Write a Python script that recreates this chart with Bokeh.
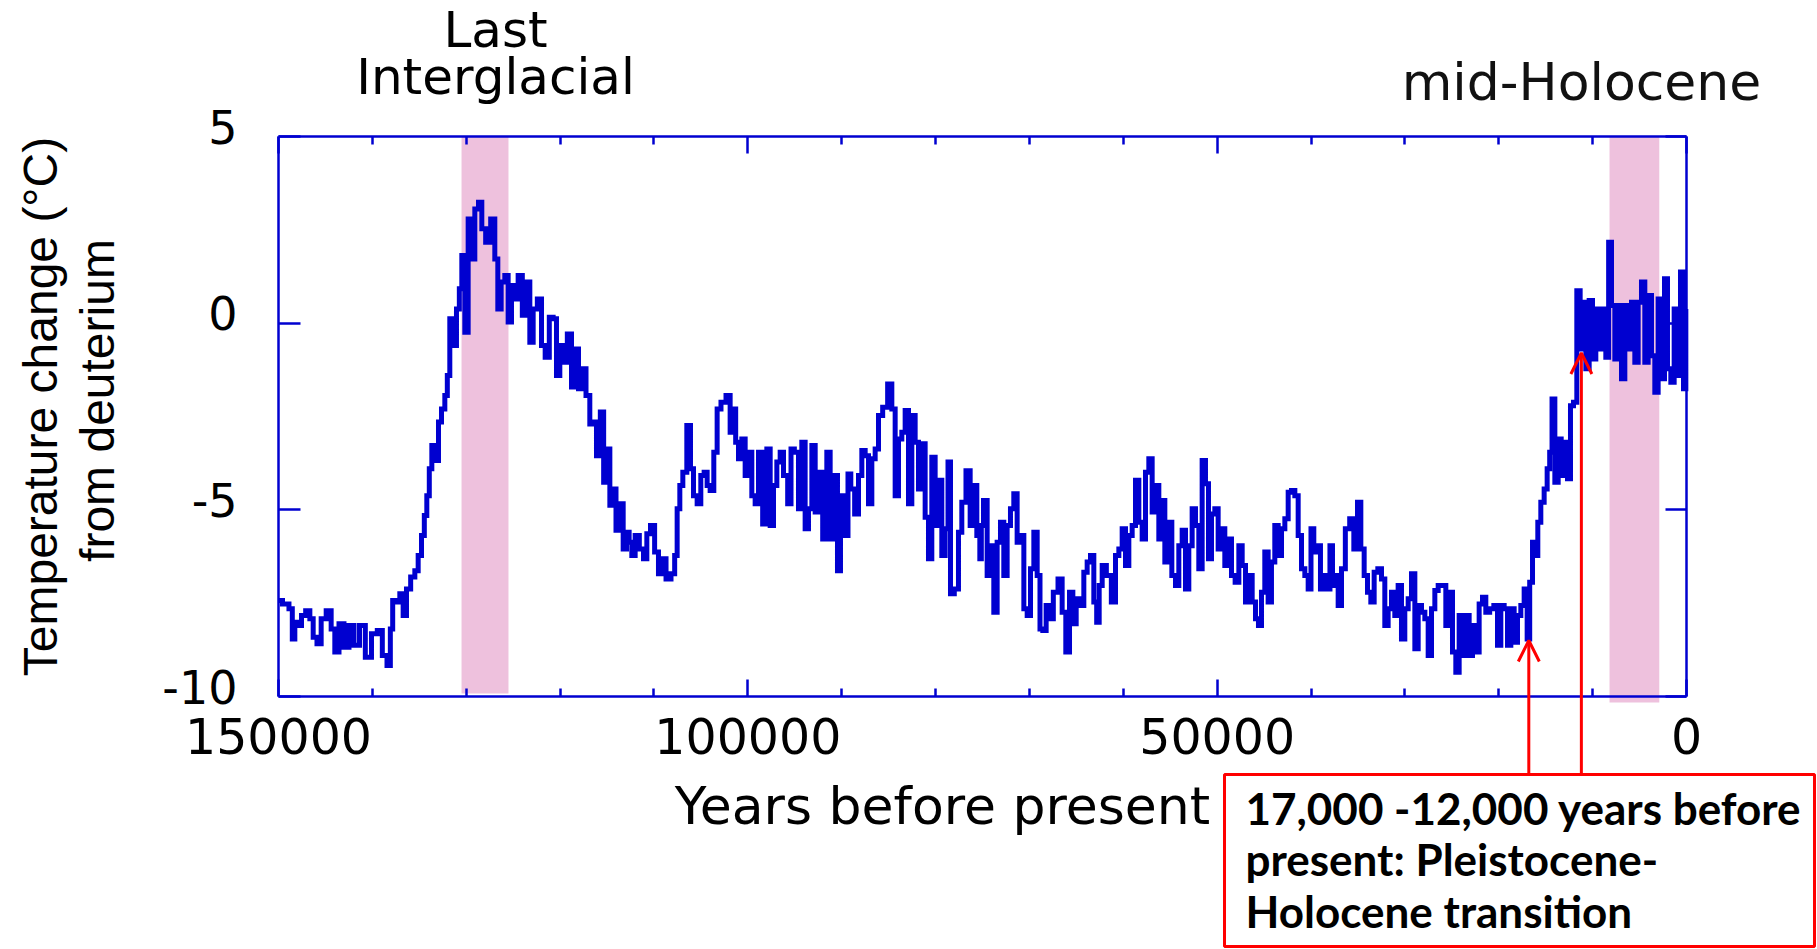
import math
from bokeh.plotting import figure
from bokeh.models import Range1d, LinearAxis, FixedTicker, Arrow, OpenHead
from bokeh.core.properties import value
from bokeh.embed import file_html
from bokeh.resources import INLINE

# ---------------- data ----------------
# Years before present / temperature change (deg C), 150 ka -> 112.5 ka
years_a = [150000, 149150, 148620, 148440, 148080, 147730, 147370, 146840, 146480, 146130,
           145670, 145240, 144600, 144180, 143820, 143290, 142760, 142220, 141690, 141050,
           140450, 139740, 139210, 138670, 138210, 137960, 137710, 137250, 136900, 136540,
           136190, 135650, 135300, 134940, 134590, 134340, 134060, 133810, 133520, 133100,
           132810, 132460, 132100, 131930, 131570, 131220, 130860, 130610, 130330, 129970,
           129620, 129260, 128910, 128480, 128200, 127660, 127130, 126780, 126490, 126070,
           125710, 125360, 125000, 124650, 124290, 123760, 123400, 123050, 122690, 122160,
           121800, 121380, 120920, 120560, 120210, 119850, 119500, 118960, 118610, 118250,
           117830, 117470, 117010, 116660, 116300, 115950, 115480, 115240, 114880, 114520,
           114170, 113920, 113460, 113100, 112750]
temps_a = [-7.43, -7.52, -7.65, -8.46, -8.01, -8.10, -7.83, -7.70, -7.92, -8.41,
           -8.59, -7.92, -7.70, -8.19, -8.81, -8.05, -8.68, -8.10, -8.63, -8.10,
           -8.95, -8.32, -8.23, -8.90, -9.17, -8.19, -7.43, -7.47, -7.25, -7.83,
           -7.12, -6.80, -6.63, -6.22, -5.69, -5.15, -4.62, -3.90, -3.28, -3.68,
           -2.65, -2.30, -1.94, -1.40, 0.12, -0.60, 0.38, 0.92, 1.81, -0.24,
           2.79, 1.72, 3.06, 3.24, 2.53, 2.17, 2.79, 1.72, 0.38, 1.10,
           1.28, 0.03, 1.01, 0.65, 1.28, 0.21, 1.10, -0.51, 0.38, 0.65,
           -0.60, -0.91, 0.16, 0.12, -1.40, -0.60, -1.05, -0.29, -1.71, -0.69,
           -1.76, -1.22, -1.94, -2.70, -2.65, -3.55, -2.38, -4.26, -3.37, -4.88,
           -4.44, -5.55, -4.84, -6.05, -5.60]

# 112.5 ka -> 75 ka
years_b = [112540, 112180, 111830, 111290, 110940, 110580, 110160, 109700, 109340, 108980,
           108450, 107920, 107670, 107390, 107100, 106750, 106250, 105970, 105610, 105190,
           104830, 104480, 104190, 103840, 103410, 103130, 102590, 102060, 101710, 101420,
           101170, 100820, 100460, 100110, 99750, 99400, 99040, 98690, 98150, 97800,
           97440, 97090, 96730, 96380, 96020, 95490, 95310, 94780, 94430, 94070,
           93720, 93360, 93000, 92650, 92290, 91760, 91410, 91050, 90630, 90270,
           89990, 89450, 89210, 88850, 88390, 88030, 87680, 87320, 86970, 86610,
           86260, 85900, 85370, 84840, 84480, 84130, 83770, 83420, 83060, 82710,
           82350, 82000, 81640, 81290, 80930, 80580, 80220, 79870, 79510, 79160,
           78800, 78550, 78270, 77740, 77380, 77030, 76490, 76140, 75780, 75430,
           75140]
temps_b = [-5.87, -6.22, -5.69, -6.05, -6.31, -5.64, -5.42, -6.13, -6.71, -6.31,
           -6.85, -6.71, -6.22, -4.97, -4.35, -3.99, -2.74, -3.90, -4.62, -4.84,
           -4.08, -3.99, -4.35, -4.48, -3.46, -2.30, -2.12, -1.94, -2.92, -2.30,
           -3.19, -3.63, -3.10, -4.08, -3.46, -4.62, -4.84, -3.46, -5.38, -3.37,
           -5.42, -4.35, -3.72, -3.46, -4.08, -4.84, -3.37, -3.46, -4.97, -3.19,
           -5.51, -4.97, -3.28, -5.06, -3.99, -5.78, -3.46, -5.78, -4.08, -6.63,
           -4.62, -5.69, -4.04, -4.44, -5.11, -4.08, -3.41, -3.55, -4.84, -3.63,
           -3.37, -2.47, -2.25, -1.63, -2.30, -4.62, -3.10, -2.92, -2.34, -4.84,
           -2.47, -3.19, -4.44, -3.23, -5.20, -6.31, -3.59, -5.42, -4.21, -6.22,
           -5.51, -3.72, -7.25, -7.12, -5.60, -4.80, -3.95, -5.42, -4.35, -5.69,
           -6.31]

# 75 ka -> 37.5 ka
years_c = [75110, 74680, 74330, 73970, 73620, 73260, 72910, 72550, 72200, 71840,
           71490, 71130, 70770, 70420, 70060, 69710, 69350, 69000, 68750, 68400,
           68040, 67690, 67220, 66690, 66340, 65910, 65550, 65200, 64840, 64380,
           64030, 63670, 63320, 62960, 62710, 62430, 62070, 61540, 61010, 60650,
           60300, 59940, 59590, 59230, 58880, 58520, 58170, 57810, 57460, 57100,
           56750, 56390, 56040, 55750, 55400, 55040, 54620, 54260, 53910, 53550,
           53200, 52840, 52490, 52130, 51780, 51420, 51070, 50780, 50430, 50070,
           49720, 49360, 49010, 48650, 48300, 47870, 47510, 47160, 46800, 46450,
           46090, 45740, 45460, 45100, 44750, 44390, 44040, 43680, 43320, 42970,
           42610, 42260, 41900, 41550, 41190, 40840, 40480, 40130, 39880, 39530,
           39170, 38820, 38460, 38110, 37860, 37570]
temps_c = [-5.42, -4.75, -6.76, -5.96, -7.74, -5.87, -5.33, -6.76, -5.42, -4.97,
           -4.57, -5.87, -5.69, -7.65, -7.83, -6.58, -5.60, -6.76, -8.19, -8.23,
           -7.56, -7.92, -7.21, -6.85, -7.74, -8.81, -7.21, -8.05, -7.38, -7.56,
           -6.67, -6.40, -6.22, -7.47, -8.01, -7.03, -6.49, -6.76, -7.47, -6.22,
           -6.05, -5.51, -6.49, -5.69, -5.42, -4.21, -5.33, -5.78, -3.99, -3.63,
           -5.06, -4.35, -5.78, -4.75, -6.40, -5.33, -6.76, -7.03, -5.96, -5.55,
           -7.12, -5.96, -4.97, -5.42, -6.58, -3.68, -4.30, -6.31, -5.11, -4.97,
           -6.05, -5.51, -6.49, -5.78, -6.76, -6.94, -5.96, -6.49, -7.47, -6.76,
           -7.47, -7.92, -8.10, -7.21, -6.13, -7.47, -6.40, -5.42, -6.22, -5.51,
           -5.24, -4.53, -4.48, -4.62, -5.69, -6.58, -6.76, -7.12, -5.51, -6.13,
           -5.96, -7.12, -6.76, -7.12, -5.96, -7.03]

# 37.5 ka -> present
years_d = [37290, 36930, 36580, 36110, 35650, 35230, 34870, 34520, 34160, 33810,
           33450, 33100, 32670, 32320, 31960, 31610, 31250, 30900, 30540, 30190,
           29830, 29470, 29120, 28760, 28410, 28050, 27700, 27340, 26990, 26630,
           26280, 25820, 25460, 25110, 24750, 24400, 24040, 23690, 23330, 22980,
           22620, 22270, 21910, 21560, 21200, 20740, 20310, 19960, 19600, 19250,
           18890, 18540, 18180, 17830, 17470, 17120, 16830, 16580, 16230, 15980,
           15700, 15340, 14990, 14700, 14450, 14200, 13850, 13490, 13210, 12860,
           12500, 12220, 11860, 11510, 11150, 10900, 10550, 10190, 9840, 9480,
           9130, 8770, 8420, 8170, 7810, 7460, 7100, 6750, 6390, 6040,
           5680, 5330, 4970, 4620, 4260, 3910, 3550, 3200, 2840, 2490,
           2200, 1850, 1490, 1140, 780, 500, 140, 0]
temps_d = [-6.76, -7.56, -6.58, -5.51, -5.24, -6.05, -4.80, -6.05, -6.76, -7.21,
           -7.47, -6.67, -6.58, -6.85, -8.10, -7.65, -7.21, -7.83, -7.03, -8.46,
           -7.65, -7.38, -6.71, -8.72, -7.56, -7.74, -7.92, -8.90, -7.65, -7.16,
           -7.03, -7.03, -8.10, -7.21, -8.81, -9.35, -7.83, -8.90, -7.83, -8.90,
           -8.10, -8.81, -7.52, -7.34, -7.74, -7.65, -7.56, -8.63, -7.56, -7.65,
           -8.63, -7.65, -8.55, -7.83, -7.56, -7.12, -8.46, -6.94, -5.87, -6.22,
           -5.33, -4.80, -4.44, -3.90, -3.46, -2.03, -4.26, -3.10, -4.08, -3.19,
           -4.17, -2.21, -2.12, 0.87, -0.69, 0.56, -1.22, 0.61, -0.96, 0.38,
           -0.69, 0.38, -0.91, 2.17, 0.47, -0.96, 0.47, -1.49, 0.47, -0.69,
           0.56, -1.05, 0.56, 1.10, -1.05, 0.74, -0.87, -1.85, 0.65, -1.49,
           1.19, -1.22, -1.58, 0.38, -1.40, 1.37, -1.76, 0.38]

# shaded periods (years before present)
band_names = ["Last Interglacial", "mid-Holocene"]
band_start = [130500, 8200]
band_end = [125500, 2900]

# axis ticks
x_ticks = [150000, 100000, 50000, 0]
x_tick_labels = ["150000", "100000", "50000", "0"]
x_minor_ticks = [140000, 130000, 120000, 110000, 90000, 80000, 70000,
                 60000, 40000, 30000, 20000, 10000]
y_ticks = [5, 0, -5, -10]
y_tick_labels = ["5", "0", "-5", "-10"]

# transition arrows (year, temperature at the tip)
arrow_years = [16800, 11200]
arrow_temps = [-8.5, -0.8]

# ---------------- layout ----------------
W, H = 1817, 949
PL, PR, PT, PB = 278, 1686, 136, 696          # plot box in pixels
BLUE = "#0000D0"
PINK = "#EEC1DD"
X0, X1 = x_ticks[0], x_ticks[-1]
Y0, Y1 = y_ticks[0], y_ticks[-1]


def X(px):
    return X0 + (px - PL) * (X1 - X0) / (PR - PL)


def Y(py):
    return Y0 + (py - PT) * (Y1 - Y0) / (PB - PT)


years = years_a + years_b + years_c + years_d
temps = temps_a + temps_b + temps_c + temps_d

p = figure(width=W, height=H, x_range=Range1d(X(0), X(W)), y_range=Range1d(Y(H), Y(0)),
           output_backend="svg", toolbar_location=None,
           x_axis_location=None, y_axis_location=None, min_border=0,
           outline_line_color=None, background_fill_color="white", border_fill_color="white")
p.xgrid.visible = False
p.ygrid.visible = False
# y tick labels sit ~10 px above their ticks in the original
p.extra_y_ranges = {"ylab": Range1d(Y(H + 10), Y(10))}

# shaded periods
p.quad(left=band_start, right=band_end, bottom=[Y(693), Y(702)], top=[Y0, Y0],
       fill_color=PINK, line_color=None)

# temperature record
p.step(years, temps, mode="center", line_color=BLUE, line_width=5, line_join="miter")


def add_axis(side, fixed, bounds, ticks, minor, labels, tick_in, minor_in,
             font_size=None, standoff=None, range_name=None, show_line=True):
    ax = LinearAxis(fixed_location=fixed, bounds=bounds,
                    ticker=FixedTicker(ticks=ticks, minor_ticks=minor),
                    axis_line_color=BLUE if show_line else None, axis_line_width=2.5,
                    major_tick_line_color=BLUE if show_line else None,
                    major_tick_line_width=2.5,
                    minor_tick_line_color=BLUE if show_line else None,
                    minor_tick_line_width=2.5,
                    major_tick_in=tick_in, major_tick_out=0,
                    minor_tick_in=minor_in, minor_tick_out=0)
    if range_name:
        ax.y_range_name = range_name
    if labels:
        ax.major_label_overrides = dict(zip(ticks, labels))
        ax.major_label_text_font = "DejaVu Sans"
        ax.major_label_text_font_size = font_size
        ax.major_label_text_color = "black"
        ax.major_label_standoff = standoff
    else:
        ax.major_label_text_color = None
    p.add_layout(ax, side)
    return ax


add_axis("below", Y1, (X1, X0), x_ticks, x_minor_ticks, x_tick_labels, 17, 8, "49px", 21)
add_axis("above", Y0, (X1, X0), x_ticks, x_minor_ticks, None, 17, 8)
add_axis("left", X0, (Y1, Y0), y_ticks, [], None, 22, 0)
add_axis("left", X0, (Y1, Y0), y_ticks, [], y_tick_labels, 0, 0, "46px", 41,
         range_name="ylab", show_line=False)
add_axis("right", X1, (Y1, Y0), y_ticks, [], None, 21, 0)

# axis titles
p.text(x=[X(942)], y=[Y(805)], text=["Years before present"], text_align="center",
       text_baseline="middle", text_font=value("DejaVu Sans"), text_font_size="52px",
       text_color="black")
p.text(x=[X(40), X(97)], y=[Y(406), Y(400)],
       text=["Temperature change (\u00b0C)", "from deuterium"], angle=math.pi / 2,
       text_align="center", text_baseline="middle", text_font=value("Liberation Sans"),
       text_font_size="48px", text_color="black")

# period labels
p.text(x=[X(495), X(495)], y=[Y(29), Y(76)], text=["Last", "Interglacial"],
       text_align="center", text_baseline="middle", text_font=value("DejaVu Sans"),
       text_font_size="50px", text_color="black")
p.text(x=[X(1581)], y=[Y(81)], text=["mid-Holocene"], text_align="center",
       text_baseline="middle", text_font=value("DejaVu Sans"), text_font_size="52px",
       text_color="#111111")

# annotation box
p.quad(left=[X(1224)], right=[X(1814)], top=[Y(774)], bottom=[Y(946)],
       fill_color="white", line_color="#FF0000", line_width=3)
p.text(x=[X(1245)] * 3, y=[Y(807), Y(858), Y(910)],
       text=["17,000 -12,000 years before", "present: Pleistocene-", "Holocene transition"],
       text_align="left", text_baseline="middle", text_font=value("Lato"),
       text_font_style="bold", text_font_size="44px", text_color="black")

for ax_year, ax_temp in zip(arrow_years, arrow_temps):
    p.add_layout(Arrow(end=OpenHead(size=21, line_color="#FF0000", line_width=3),
                       x_start=ax_year, y_start=Y(774), x_end=ax_year, y_end=ax_temp,
                       line_color="#FF0000", line_width=3))

open("out.html", "w").write(file_html(p, INLINE))
